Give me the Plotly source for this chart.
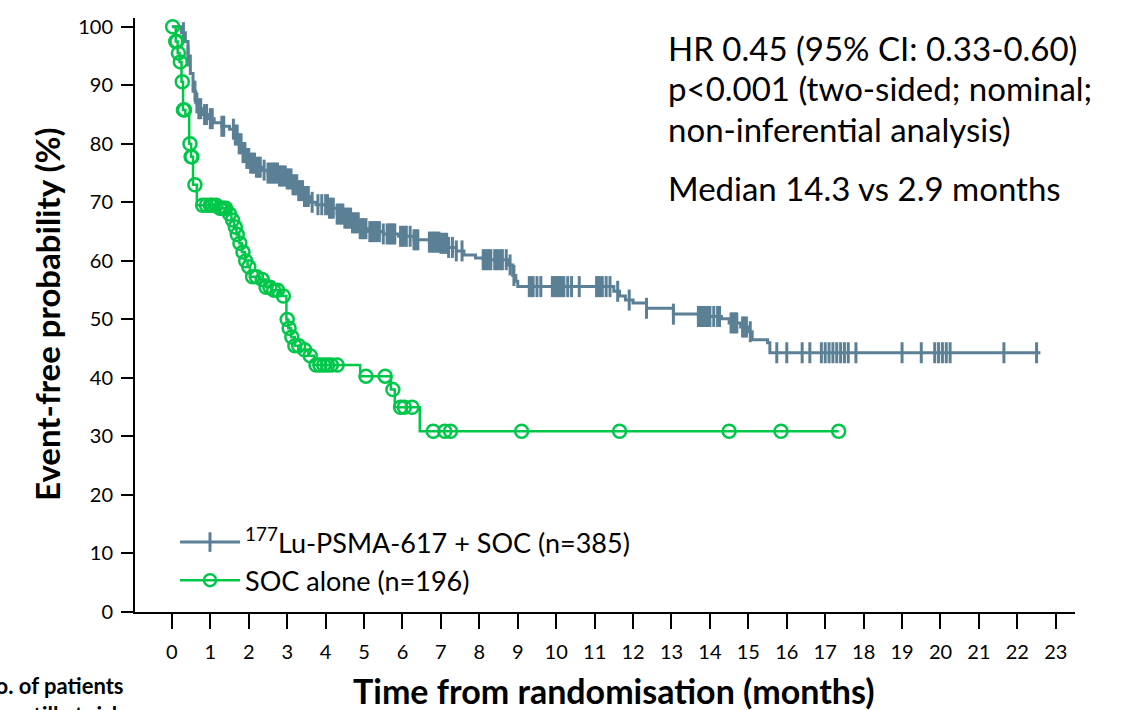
import numpy as np
import plotly.graph_objects as go

# ---- Data ----
# Lu-PSMA-617 + SOC: KM step points (time in months, event-free %)
lu_time = [0, 0.25, 0.35, 0.42, 0.48, 0.55, 0.62, 0.7, 0.8, 0.95, 1.1, 1.3, 1.5, 1.65,
           1.75, 1.85, 1.95, 2.05, 2.2, 2.35, 2.5, 2.8, 3.0, 3.15, 3.3, 3.45, 3.6, 3.75,
           4.1, 4.3, 4.5, 4.7, 4.9, 5.1, 5.5, 5.9, 6.3, 6.7, 7.0, 7.2, 7.4, 7.6, 7.9, 8.1,
           8.75, 8.87, 8.95, 9.0, 11.5, 11.65, 11.8, 12.0, 12.35, 13.05, 13.7, 14.3, 14.5,
           14.8, 15.0, 15.1, 15.5, 15.56]
lu_surv = [100, 99, 97.5, 95, 92, 89, 87, 86, 85, 84.3, 83.6, 83, 82.5, 81.5,
           80, 78.5, 77.5, 76.7, 76, 75.5, 75, 74.5, 74, 73, 72, 71, 70, 69.6,
           69, 68, 67.3, 66.5, 65.5, 65, 64.6, 64.2, 63.6, 63.2, 63, 62.3, 61.7, 61, 60.5, 60.2,
           59.3, 57.5, 56.5, 55.6, 54.8, 54, 53.3, 52.8, 51.9, 50.9, 50.5, 50.1, 49.4,
           48.7, 47.9, 46.5, 46, 44.3]
lu_end = 22.6
lu_censor = [0.3, 0.42, 0.6, 0.65, 0.7, 0.75, 0.85, 0.9, 1.0, 1.05, 1.3, 1.35, 1.6, 1.65,
             1.7, 1.75, 1.8, 1.85, 1.9, 1.95, 2.0, 2.05, 2.1, 2.15, 2.2, 2.25, 2.3, 2.4,
             2.5, 2.55, 2.6, 2.65, 2.7, 2.75, 2.8, 2.85, 2.9, 2.95, 3.0, 3.05, 3.1, 3.15,
             3.2, 3.25, 3.3, 3.35, 3.4, 3.45, 3.5, 3.55, 3.65, 3.8, 3.9, 4.0, 4.05, 4.1,
             4.15, 4.2, 4.3, 4.35, 4.4, 4.45, 4.5, 4.55, 4.6, 4.65, 4.7, 4.75, 4.8, 4.85,
             4.9, 4.95, 5.0, 5.05, 5.15, 5.2, 5.25, 5.3, 5.35, 5.4, 5.5, 5.6, 5.65, 5.7,
             5.75, 5.8, 5.95, 6.0, 6.05, 6.1, 6.2, 6.3, 6.35, 6.4, 6.7, 6.75, 6.8, 6.85,
             6.9, 6.95, 7.0, 7.05, 7.1, 7.15, 7.2, 7.3, 7.4, 7.55, 8.1, 8.15, 8.2, 8.25,
             8.3, 8.4, 8.45, 8.5, 8.55, 8.6, 8.7, 8.8, 8.9, 9.3, 9.35, 9.4, 9.5, 9.6, 9.9,
             9.95, 10.0, 10.05, 10.1, 10.15, 10.2, 10.3, 10.4, 10.6, 11.05, 11.1, 11.15,
             11.2, 11.3, 11.4, 11.6, 11.9, 12.35, 13.05, 13.7, 13.75, 13.8, 13.85, 13.9,
             13.95, 14.0, 14.1, 14.2, 14.25, 14.55, 14.6, 14.65, 14.7, 14.85, 14.9, 14.95,
             15.05, 15.74, 16.0, 16.4, 16.6, 16.9, 17.0, 17.1, 17.2, 17.3, 17.4, 17.5,
             17.6, 17.8, 19.0, 19.5, 19.85, 19.95, 20.05, 20.15, 20.25, 21.65, 22.5]

# SOC alone
soc_time = [0, 0.1, 0.15, 0.2, 0.25, 0.29, 0.35, 0.45, 0.5, 0.55, 0.65, 1.2, 1.45, 1.55,
            1.62, 1.68, 1.75, 1.82, 1.9, 1.97, 2.03, 2.3, 2.45, 2.6, 2.85, 2.98, 3.03, 3.1,
            3.2, 3.35, 3.55, 3.7, 4.9, 5.7, 5.8, 6.45]
soc_surv = [100, 97.5, 95.5, 94, 90.6, 85.8, 85, 80, 77.8, 73, 69.5, 69, 68, 67,
            65.8, 64.5, 63, 61.5, 60, 59, 57.3, 56.8, 55.5, 55, 54, 50, 48.5, 47,
            45.5, 44.8, 43.8, 42.2, 40.3, 38, 35, 30.9]
soc_end = 17.35
soc_censor = [0.02, 0.1, 0.13, 0.17, 0.22, 0.27, 0.3, 0.33, 0.47, 0.5, 0.52, 0.6, 0.8, 0.9,
              1.0, 1.05, 1.15, 1.25, 1.3, 1.35, 1.4, 1.5, 1.58, 1.65, 1.7, 1.77, 1.85, 1.92,
              2.0, 2.1, 2.2, 2.35, 2.45, 2.55, 2.65, 2.75, 2.9, 3.0, 3.05, 3.12, 3.2, 3.3,
              3.45, 3.6, 3.75, 3.85, 3.95, 4.05, 4.15, 4.3, 5.05, 5.55, 5.75, 5.95, 6.05,
              6.25, 6.8, 7.1, 7.25, 9.1, 11.65, 14.5, 15.85, 17.35]

x_ticks = list(range(0, 24))
y_ticks = list(range(0, 101, 10))

lu_name = "<sup>177</sup>Lu-PSMA-617 + SOC (n=385)"
soc_name = "SOC alone (n=196)"
stats_text = ["HR 0.45 (95% CI: 0.33-0.60)", "p<0.001 (two-sided; nominal;",
              "non-inferential analysis)"]
median_text = "Median 14.3 vs 2.9 months"

BLUE = "#5b8096"
GREEN = "#00c74a"
FONT = "Lato"


def step_value(t, ts, ss):
    idx = np.searchsorted(np.array(ts), t, side="right") - 1
    return [ss[i] for i in idx]


fig = go.Figure()

# KM step lines
fig.add_trace(go.Scatter(x=lu_time + [lu_end], y=lu_surv + [lu_surv[-1]], mode="lines",
                         line=dict(color=BLUE, width=3, shape="hv"), showlegend=False,
                         hoverinfo="skip"))
fig.add_trace(go.Scatter(x=soc_time + [soc_end], y=soc_surv + [soc_surv[-1]], mode="lines",
                         line=dict(color=GREEN, width=2.5, shape="hv"), showlegend=False,
                         hoverinfo="skip"))
# censor marks
fig.add_trace(go.Scatter(x=lu_censor, y=step_value(lu_censor, lu_time, lu_surv), mode="markers",
                         marker=dict(symbol="line-ns", size=15,
                                     line=dict(color=BLUE, width=3)), showlegend=False))
fig.add_trace(go.Scatter(x=soc_censor, y=step_value(soc_censor, soc_time, soc_surv), mode="markers",
                         marker=dict(symbol="circle-open", size=13, color=GREEN,
                                     line=dict(color=GREEN, width=2.5)), showlegend=False))

# legend entries
fig.add_trace(go.Scatter(x=[None], y=[None], mode="lines+markers", name=lu_name,
                         line=dict(color=BLUE, width=3),
                         marker=dict(symbol="line-ns", size=14, line=dict(color=BLUE, width=3))))
fig.add_trace(go.Scatter(x=[None], y=[None], mode="lines+markers", name=soc_name,
                         line=dict(color=GREEN, width=2.5),
                         marker=dict(symbol="circle-open", size=12, color=GREEN,
                                     line=dict(color=GREEN, width=2.5))))

W, H = 1140, 710
L, R, T, B = 135, 65, 18, 98
pw, ph = W - L - R, H - T - B


def px_x(px):
    return (px - L) / pw


def px_y(py):
    return (H - B - py) / ph


ann = []
for yc, line in zip([48, 88, 129], stats_text):
    ann.append(dict(x=px_x(666), y=px_y(yc), xref="paper", yref="paper", text=line,
                    showarrow=False, xanchor="left", yanchor="middle",
                    font=dict(family=FONT, size=33, color="black")))
ann.append(dict(x=px_x(666), y=px_y(188), xref="paper", yref="paper", text=median_text,
                showarrow=False, xanchor="left", yanchor="middle",
                font=dict(family=FONT, size=33, color="black")))
ann.append(dict(x=px_x(47), y=px_y(314), xref="paper", yref="paper",
                text="<b>Event-free probability (%)</b>", textangle=-90, showarrow=False,
                xanchor="center", yanchor="middle", font=dict(family=FONT, size=33, color="black")))
ann.append(dict(x=px_x(614), y=px_y(690), xref="paper", yref="paper",
                text="<b>Time from randomisation (months)</b>", showarrow=False,
                xanchor="center", yanchor="middle", font=dict(family=FONT, size=34, color="black")))
ann.append(dict(x=px_x(126), y=px_y(670), xref="paper", yref="paper",
                text="<b>No. of patients<br>still at risk</b>", showarrow=False, align="right",
                xanchor="right", yanchor="top", font=dict(family=FONT, size=22, color="black")))

fig.update_layout(
    width=W, height=H,
    margin=dict(l=L, r=R, t=T, b=B, pad=0),
    paper_bgcolor="white", plot_bgcolor="white",
    font=dict(family=FONT, color="black"),
    xaxis=dict(range=[-0.96, 23.5], tickvals=x_ticks, ticktext=[str(v) for v in x_ticks],
               showline=True, linecolor="black", linewidth=2, ticks="outside", ticklen=15,
               tickwidth=2, tickcolor="black", showgrid=False, zeroline=False,
               tickfont=dict(family=FONT, size=20), ticklabelstandoff=6),
    yaxis=dict(range=[0, 101.5], tickvals=y_ticks, showline=True, linecolor="black",
               linewidth=2, ticks="outside", ticklen=12, tickwidth=2, tickcolor="black",
               showgrid=False, zeroline=False, tickfont=dict(family=FONT, size=20),
               ticklabelstandoff=4),
    legend=dict(x=px_x(175), y=px_y(518), xanchor="left", yanchor="top",
                font=dict(family=FONT, size=27, color="black"), bgcolor="rgba(0,0,0,0)",
                itemwidth=60),
    annotations=ann,
    showlegend=True,
)

fig.write_html("out.html")
